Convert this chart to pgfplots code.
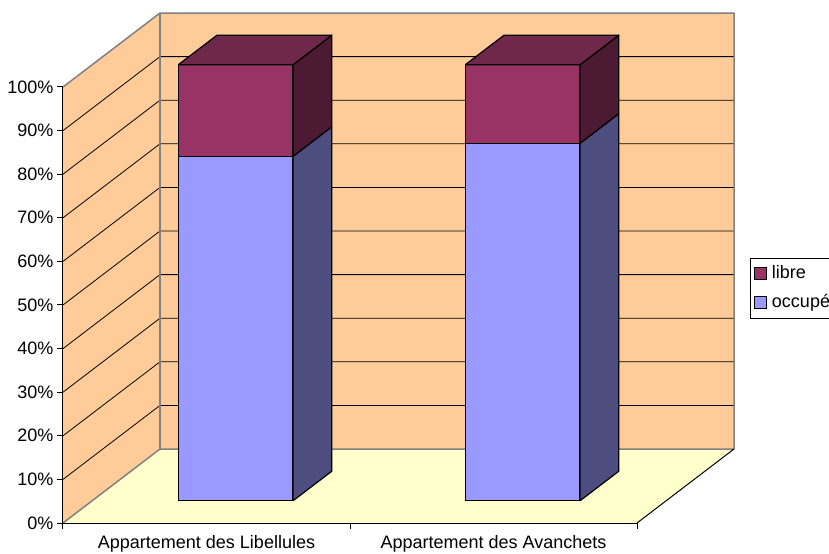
\documentclass[border=0pt]{standalone}
\usepackage{pgfplots}
\pgfplotsset{compat=1.18}
\usepackage{pgfplotstable}
\usepackage{fontspec}
\setmainfont{Liberation Sans}
\definecolor{peach}{HTML}{FFCC99}
\definecolor{floorc}{HTML}{FFFFCC}
\definecolor{wallgray}{HTML}{808080}
\definecolor{occF}{HTML}{9999FF}
\definecolor{occS}{HTML}{4D4D80}
\definecolor{libF}{HTML}{993366}
\definecolor{libS}{HTML}{4D1A33}
\definecolor{libT}{HTML}{70284A}
\newcommand{\DX}{0.338}
\newcommand{\DY}{16.97}
\newcommand{\fs}{\fontsize{18bp}{21.5bp}\selectfont}
% unit faces of a bar: u = across, d = depth, h = height fraction
\pgfplotstableread[row sep=\\]{u d h\\ 0 0.3 0\\ 1 0.3 0\\ 1 0.3 1\\ 0 0.3 1\\ 0 0.3 0\\}\frontF
\pgfplotstableread[row sep=\\]{u d h\\ 1 0.3 0\\ 1 0.7 0\\ 1 0.7 1\\ 1 0.3 1\\ 1 0.3 0\\}\sideF
\pgfplotstableread[row sep=\\]{u d h\\ 0 0.3 1\\ 1 0.3 1\\ 1 0.7 1\\ 0 0.7 1\\ 0 0.3 1\\}\topF
% walls: x, d = depth, z = percent
\pgfplotstableread[row sep=\\]{x d z\\ 0 0 0\\ 0 1 0\\ 0 1 100\\ 0 0 100\\ 0 0 0\\}\leftW
\pgfplotstableread[row sep=\\]{x d z\\ 0 1 0\\ 2 1 0\\ 2 1 100\\ 0 1 100\\ 0 1 0\\}\backW
\pgfplotstableread[row sep=\\]{x d z\\ 0 0 0\\ 2 0 0\\ 2 1 0\\ 0 1 0\\ 0 0 0\\}\floorW
\pgfplotstableread[row sep=\\]{x d z\\ 0 0 0\\ 0 1 0\\ 2 1 0\\ 2 1 100\\ 0 1 100\\ 0 0 100\\}\grayedgeA
\pgfplotstableread[row sep=\\]{x d z\\ 0 1 0\\ 0 1 100\\}\grayedgeB
\pgfplotstableread[row sep=\\]{x d z\\ 2 0 0\\ 2 1 0\\}\blackedge
% data (percent)
\pgfplotstableread{
cat occupe libre
0 79 21
1 82 18
}\datatable
\pgfplotsset{
  wall/.style={forget plot},
  /pgfplots/table/obl/.style={x expr={\thisrow{x}+\DX*\thisrow{d}}, y expr={\thisrow{z}+\DY*\thisrow{d}}},
}
% #1 category index, #2 bottom, #3 top, #4 face table, #5 colour
\newcommand{\barface}[5]{%
  \addplot[fill=#5, draw=black, line width=1.2bp, line join=round, forget plot]
    table[x expr={#1+0.3+0.4*\thisrow{u}+\DX*\thisrow{d}},
          y expr={#2+(#3-#2)*\thisrow{h}+\DY*\thisrow{d}}] {#4};}
\begin{document}
\begin{tikzpicture}
\useasboundingbox (-63bp,-31bp) rectangle (766bp,523bp);
\clip (-63bp,-31bp) rectangle (766bp,523bp);
\begin{axis}[
  at={(0,0)}, anchor=origin,
  scale only axis, width=574bp, height=436bp,
  xmin=0, xmax=2, ymin=0, ymax=100,
  clip=false, axis on top,
  axis x line*=bottom, axis y line*=left,
  axis line style={black, line width=1bp},
  tick align=outside,
  major tick length=6bp,
  tick style={black, line width=1bp},
  xtick={0,1,2}, xticklabels={},
  extra x ticks={0.5,1.5},
  extra x tick labels={Appartement des Libellules, Appartement des Avanchets},
  extra x tick style={major tick length=0bp},
  xticklabel shift=9bp,
  ytick={0,10,20,30,40,50,60,70,80,90,100},
  yticklabels={0\%,10\%,20\%,30\%,40\%,50\%,60\%,70\%,80\%,90\%,100\%},
  tick label style={font=\fs},
  legend style={at={(1.197,0.608)}, anchor=north west, draw=black,
    line width=0.6bp, fill=white, font=\fs, row sep=6bp, inner sep=4bp,
    nodes={inner sep=3bp, text height=13bp, text depth=4bp}},
  legend cell align=left,
  legend image code/.code={\draw[#1, draw=black, line width=0.6bp] (2bp,-6bp) rectangle (14bp,6bp); \path (16bp,0bp);},
]
% walls
\addplot[fill=peach, draw=none, wall] table[obl] {\leftW};
\addplot[fill=peach, draw=none, wall] table[obl] {\backW};
\addplot[fill=floorc, draw=none, wall] table[obl] {\floorW};
% gridlines
\pgfplotsinvokeforeach{10,20,30,40,50,60,70,80,90}{
  \addplot[black, line width=0.8bp, wall] table[row sep=\\, obl] {x d z\\ 0 0 #1\\ 0 1 #1\\ 2 1 #1\\};
}
\addplot[wallgray, line width=1.5bp, line join=round, wall] table[obl] {\grayedgeA};
\addplot[wallgray, line width=1.5bp, wall] table[obl] {\grayedgeB};
\addplot[black, line width=1bp, wall] table[obl] {\blackedge};
% bar 1
\barface{0}{0}{79}{\frontF}{occF}
\barface{0}{0}{79}{\sideF}{occS}
\barface{0}{79}{100}{\frontF}{libF}
\barface{0}{79}{100}{\sideF}{libS}
\barface{0}{79}{100}{\topF}{libT}
% bar 2
\barface{1}{0}{82}{\frontF}{occF}
\barface{1}{0}{82}{\sideF}{occS}
\barface{1}{82}{100}{\frontF}{libF}
\barface{1}{82}{100}{\sideF}{libS}
\barface{1}{82}{100}{\topF}{libT}
\addlegendimage{fill=libF}
\addlegendentry{libre}
\addlegendimage{fill=occF}
\addlegendentry{occupé}
\end{axis}
\end{tikzpicture}
\end{document}
